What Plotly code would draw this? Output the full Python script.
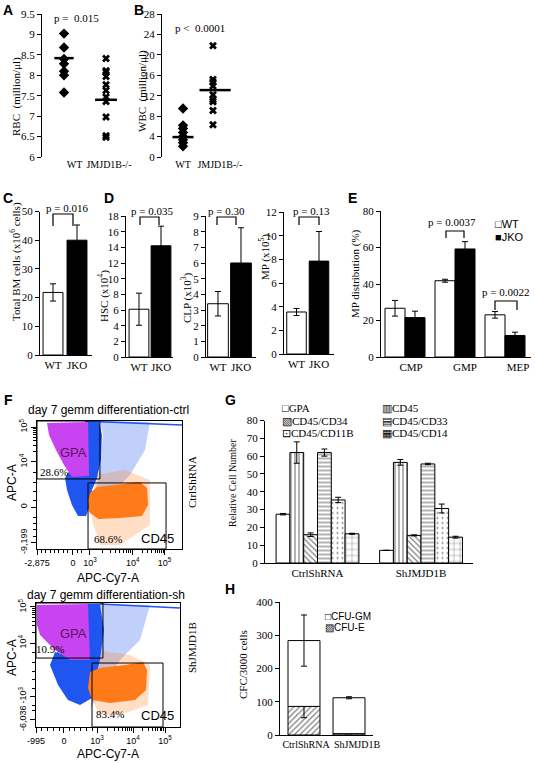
import numpy as np
import plotly.graph_objects as go

W, H = 535, 763
SERIF = "Liberation Serif, Times New Roman, serif"
SANS = "Liberation Sans, Arial, sans-serif"

# ---------------- DATA ----------------
# A: RBC (million/ul)
ab_groups = ["WT", "JMJD1B-/-"]
rbc_wt = [9.02, 8.68, 8.40, 8.28, 8.10, 8.00, 7.58]
rbc_ko = [8.41, 8.11, 8.08, 7.97, 7.77, 7.63, 7.47, 7.36, 6.98, 6.52, 6.48]
rbc_mean = [8.42, 7.40]
# B: WBC (million/ul)
wbc_wt = [9.5, 6.2, 5.6, 4.8, 4.0, 3.4, 2.8, 2.1]
wbc_ko = [21.8, 15.2, 14.7, 13.9, 12.2, 11.2, 10.8, 9.1, 6.3]
wbc_mean = [3.9, 13.1]

# C / D
cd_groups = ["WT", "JKO"]
bm_mean, bm_err = [21.8, 40.0], [3.0, 5.3]
hsc_mean, hsc_err = [6.1, 14.2], [2.05, 2.5]
clp_mean, clp_err = [3.4, 6.0], [0.78, 2.25]
mp_mean, mp_err = [3.55, 7.85], [0.3, 2.5]

# E
e_cats = ["CMP", "GMP", "MEP"]
e_wt, e_wt_err = [26.7, 41.8, 23.1], [4.3, 0.8, 1.8]
e_ko, e_ko_err = [21.6, 59.2, 11.8], [3.5, 4.0, 1.8]

# G
g_groups = ["CtrlShRNA", "ShJMJD1B"]
g_series = ["GPA", "CD45", "CD45/CD34", "CD45/CD33", "CD45/CD11B", "CD45/CD14"]
g_gpa, g_gpa_err = [27.4, 7.1], [0.4, 0.0]
g_cd45, g_cd45_err = [62.0, 56.5], [6.0, 1.6]
g_cd34, g_cd34_err = [15.9, 15.5], [1.0, 0.3]
g_cd33, g_cd33_err = [62.0, 55.6], [2.0, 0.4]
g_cd11b, g_cd11b_err = [35.4, 30.6], [1.5, 2.5]
g_cd14, g_cd14_err = [16.4, 14.5], [0.3, 0.5]

# H
h_groups = ["CtrlShRNA", "ShJMJD1B"]
cfu_e, cfu_e_err = [86, 4], [34, 0]
cfu_gm, cfu_gm_err = [198, 108], [77, 3]

# F: flow cytometry (display units 0-100), outlines of dot clouds
ctrl_magenta_x = [6.9, 35.2, 35.9, 24.1, 18.6, 13.1, 8.3]
ctrl_magenta_y = [98.4, 99.2, 57.0, 56.3, 65.6, 77.3, 89.1]
ctrl_blue_x = [33.1, 42.8, 44.8, 44.1, 41.4, 37.9, 36.6, 33.8, 28.3, 24.1, 20.7, 19.3, 22.8, 33.1]
ctrl_blue_y = [100, 100, 89.1, 69.5, 55.5, 46.1, 34.4, 25.8, 25.8, 34.4, 46.1, 55.5, 61.7, 61.7]
ctrl_blue_sparse_x = [43.4, 77.9, 74.5, 64.1, 53.8, 43.4, 36.6, 43.4, 45.5]
ctrl_blue_sparse_y = [100, 99.2, 77.3, 57.8, 46.1, 30.5, 26.6, 61.7, 89.1]
ctrl_orange_x = [36.6, 41.4, 53.8, 71.0, 75.9, 76.6, 72.4, 57.2, 42.1, 35.9, 35.2]
ctrl_orange_y = [43.8, 48.4, 50.0, 52.3, 47.7, 34.4, 25.8, 24.2, 23.4, 28.9, 38.3]
ctrl_orange_sparse_x = [40.0, 60.7, 77.9, 77.9, 57.2, 43.4, 37.9]
ctrl_orange_sparse_y = [57.8, 61.7, 53.9, 18.8, 3.1, 3.1, 22.7]
ctrl_sat_x, ctrl_sat_y = [43.4, 100], [99.5, 96.9]
ctrl_gpa_gate = [0, 43.4, 54.7, 100]
ctrl_cd45_gate = [35.2, 89.0, 0, 51.6]

sh_magenta_x = [0.7, 36.1, 37.5, 23.6, 13.2, 2.8, 0.7]
sh_magenta_y = [98.4, 99.2, 54.0, 54.0, 62.1, 74.2, 82.3]
sh_blue_x = [34.7, 44.4, 47.2, 44.4, 41.0, 38.9, 30.6, 22.2, 15.3, 9.7, 13.2, 34.7]
sh_blue_y = [99.2, 99.2, 78.2, 54.0, 37.9, 23.4, 17.7, 21.8, 33.9, 50.0, 60.5, 54.0]
sh_blue_sparse_x = [44.4, 79.2, 72.2, 58.3, 44.4, 37.5, 44.4]
sh_blue_sparse_y = [99.2, 98.4, 70.2, 54.0, 29.8, 13.7, 62.1]
sh_orange_x = [37.5, 44.4, 61.8, 74.3, 77.1, 76.4, 68.8, 51.4, 38.9, 36.1]
sh_orange_y = [44.4, 47.6, 50.0, 52.4, 46.0, 29.8, 21.8, 19.4, 21.8, 31.5]
sh_orange_sparse_x = [40.3, 65.3, 79.2, 77.8, 58.3, 44.4, 38.9]
sh_orange_sparse_y = [62.1, 58.1, 50.0, 17.7, 9.7, 9.7, 21.8]
sh_sat_x, sh_sat_y = [44.4, 100], [99.2, 96.0]
sh_gpa_gate = [0, 46.5, 55.6, 100]
sh_cd45_gate = [38.9, 88.2, 0, 51.6]

ctrl_xtick_pos = [0, 24.8, 36.5, 66, 88]
ctrl_xtick_txt = ["-2,875", "0", "10<sup>3</sup>", "10<sup>4</sup>", "10<sup>5</sup>"]
ctrl_ytick_pos = [5.0, 32.8, 68, 95.3]
ctrl_ytick_txt = ["-9,199", "0", "10<sup>4</sup>", "10<sup>5</sup>"]
sh_xtick_pos = [0, 19.4, 42.4, 67.4, 89.6]
sh_xtick_txt = ["-995", "0", "10<sup>3</sup>", "10<sup>4</sup>", "10<sup>5</sup>"]
sh_ytick_pos = [6.0, 24.5, 67.7, 96.8]
sh_ytick_txt = ["-6,036", "-10<sup>3</sup>", "10<sup>4</sup>", "10<sup>5</sup>"]

# ---------------- HELPERS ----------------
def dom_x(l, r):
    return [l / W, r / W]

def dom_y(t, b):
    return [1 - b / H, 1 - t / H]

def P(x, y):
    return x / W, 1 - y / H

layout = dict(width=W, height=H, margin=dict(l=0, r=0, t=0, b=0, autoexpand=False),
              paper_bgcolor="white", plot_bgcolor="white", showlegend=False,
              barmode="group", bargap=0.2, bargroupgap=0)

def yax(n, dom, rng, dtick=None, **kw):
    d = dict(domain=dom, range=rng, anchor="x" if n == 1 else f"x{n}",
             showgrid=False, zeroline=False, showline=True, linecolor="black", linewidth=1,
             ticks="outside", ticklen=4, tickcolor="black", tickwidth=1, automargin=False,
             tickfont=dict(family=SERIF, size=11, color="black"))
    if dtick is not None:
        d["dtick"] = dtick
        d["tick0"] = 0
    d.update(kw)
    layout["yaxis" if n == 1 else f"yaxis{n}"] = d

def xax(n, dom, rng, tickvals, ticktext, size=11, **kw):
    d = dict(domain=dom, range=rng, anchor="y" if n == 1 else f"y{n}",
             showgrid=False, zeroline=False, showline=True, linecolor="black", linewidth=1,
             ticks="", tickmode="array", tickvals=tickvals, ticktext=ticktext, tickangle=0,
             automargin=False, tickfont=dict(family=SERIF, size=size, color="black"))
    d.update(kw)
    layout["xaxis" if n == 1 else f"xaxis{n}"] = d

def ax_ref(n):
    return ("x", "y") if n == 1 else (f"x{n}", f"y{n}")

fig = go.Figure()
EB = dict(type="data", color="black", thickness=1, width=3)

# ---------------- A ----------------
xax(1, dom_x(42, 130), [0.476, 2.571], [1.25, 2.07], ab_groups, size=10, showline=False)
yax(1, dom_y(14, 157), [6, 9.5], 0.5)
xr, yr = ax_ref(1)
fig.add_trace(go.Scatter(x=[1] * len(rbc_wt), y=rbc_wt, mode="markers",
                         marker=dict(symbol="diamond", size=8, color="black"), xaxis=xr, yaxis=yr))
fig.add_trace(go.Scatter(x=[2] * len(rbc_ko), y=rbc_ko, mode="markers",
                         marker=dict(symbol="x", size=7, color="black"), xaxis=xr, yaxis=yr))
for i, (m, hw) in enumerate(zip(rbc_mean, [0.23, 0.26])):
    fig.add_trace(go.Scatter(x=[i + 1 - hw, i + 1 + hw], y=[m, m], mode="lines",
                             line=dict(color="black", width=2.5), xaxis=xr, yaxis=yr))

# ---------------- B ----------------
xax(2, dom_x(162, 245), [0.3, 3.067], [1.0, 2.23], ab_groups, size=10, showline=False)
yax(2, dom_y(14, 157), [0, 28], 4)
xr, yr = ax_ref(2)
fig.add_trace(go.Scatter(x=[1] * len(wbc_wt), y=wbc_wt, mode="markers",
                         marker=dict(symbol="diamond", size=8, color="black"), xaxis=xr, yaxis=yr))
fig.add_trace(go.Scatter(x=[2] * len(wbc_ko), y=wbc_ko, mode="markers",
                         marker=dict(symbol="x", size=7, color="black"), xaxis=xr, yaxis=yr))
for i, (m, hw, c) in enumerate(zip(wbc_mean, [0.35, 0.52], [1.0, 2.07])):
    fig.add_trace(go.Scatter(x=[c - hw, c + hw], y=[m, m], mode="lines",
                             line=dict(color="black", width=2.5), xaxis=xr, yaxis=yr))

# ---------------- C, D ----------------
def two_bar(n, xdom, xrng, ydom, yrng, dtick, means, errs, bw):
    xax(n, xdom, xrng, [0, 1], cd_groups)
    yax(n, ydom, yrng, dtick)
    xr, yr = ax_ref(n)
    fig.add_trace(go.Bar(x=[0, 1], y=means, width=bw, offset=-bw / 2,
                         marker=dict(color=["white", "black"], line=dict(color="black", width=1)),
                         error_y=dict(array=errs, **EB), xaxis=xr, yaxis=yr))

two_bar(3, dom_x(40, 92), [-0.542, 1.625], dom_y(211.5, 355), [0, 50], 10, bm_mean, bm_err, 0.83)
two_bar(4, dom_x(126, 173), [-0.59, 1.545], dom_y(216, 357), [0, 18], 2, hsc_mean, hsc_err, 0.9)
two_bar(5, dom_x(206, 256), [-0.52, 1.652], dom_y(216, 357), [0, 9], 1, clp_mean, clp_err, 0.9)
two_bar(6, dom_x(284, 334), [-0.556, 1.667], dom_y(212, 354), [0, 12], 2, mp_mean, mp_err, 0.87)

# ---------------- E ----------------
xax(7, dom_x(381, 531), [-0.48, 2.52], [0.12, 1.2, 2.26], e_cats)
yax(7, dom_y(211, 357), [0, 80], 20)
xr, yr = ax_ref(7)
fig.add_trace(go.Bar(x=[0, 1, 2], y=e_wt, name="WT",
                     marker=dict(color="white", line=dict(color="black", width=1)),
                     error_y=dict(array=e_wt_err, **EB), xaxis=xr, yaxis=yr))
fig.add_trace(go.Bar(x=[0, 1, 2], y=e_ko, name="JKO",
                     marker=dict(color="black", line=dict(color="black", width=1)),
                     error_y=dict(array=e_ko_err, **EB), xaxis=xr, yaxis=yr))

# ---------------- F (flow) ----------------
MAG, BLUE, ORANGE = "#C844F0", "#1F55F0", "#FF7A18"
minor_x_ctrl = list(36.5 + 29.5 * np.log10(np.arange(2, 10))) + list(66 + 22 * np.log10(np.arange(2, 10))) \
    + [3, 6, 9, 12, 15, 18, 21, 28, 31]
minor_y_ctrl = list(68 + 27.3 * np.log10(np.arange(2, 10))) + [10, 15, 20, 25, 38, 45, 52, 60]
minor_x_sh = list(42.4 + 25 * np.log10(np.arange(2, 10))) + list(67.4 + 22.2 * np.log10(np.arange(2, 10))) \
    + [4, 8, 12, 16, 23, 27, 31, 35, 39]
minor_y_sh = list(67.7 + 29.1 * np.log10(np.arange(2, 10))) + [13, 17, 31, 38, 45, 52, 60]

def flow_axes(n, xdom, ydom, xt, xtt, yt, ytt, mx, my):
    fnt = dict(family=SANS, size=9, color="black")
    layout[f"xaxis{n}"] = dict(domain=xdom, range=[0, 100], anchor=f"y{n}", showgrid=False, zeroline=False,
                               showline=True, mirror=True, linecolor="black", linewidth=1,
                               ticks="outside", ticklen=5, tickcolor="black", tickmode="array",
                               tickvals=xt, ticktext=xtt, tickfont=fnt, tickangle=0, automargin=False,
                               minor=dict(tickmode="array", tickvals=mx, ticks="outside", ticklen=3,
                                          tickcolor="black"))
    layout[f"yaxis{n}"] = dict(domain=ydom, range=[0, 100], anchor=f"x{n}", showgrid=False, zeroline=False,
                               showline=True, mirror=True, linecolor="black", linewidth=1,
                               ticks="outside", ticklen=5, tickcolor="black", tickmode="array",
                               tickvals=yt, ticktext=ytt, tickangle=-90, tickfont=fnt, automargin=False,
                               minor=dict(tickmode="array", tickvals=my, ticks="outside", ticklen=3,
                                          tickcolor="black"))

def poly(xs, ys, color, n):
    fig.add_trace(go.Scatter(x=xs, y=ys, fill="toself", fillcolor=color, mode="lines",
                             line=dict(width=0, color=color), hoverinfo="skip",
                             xaxis=f"x{n}", yaxis=f"y{n}"))

flow_axes(8, dom_x(37, 182), dom_y(421, 549), ctrl_xtick_pos, ctrl_xtick_txt, ctrl_ytick_pos, ctrl_ytick_txt,
          minor_x_ctrl, minor_y_ctrl)
flow_axes(9, dom_x(36, 180), dom_y(603, 727), sh_xtick_pos, sh_xtick_txt, sh_ytick_pos, sh_ytick_txt,
          minor_x_sh, minor_y_sh)

for n, d in [(8, dict(bs=(ctrl_blue_sparse_x, ctrl_blue_sparse_y), os=(ctrl_orange_sparse_x, ctrl_orange_sparse_y),
                      b=(ctrl_blue_x, ctrl_blue_y), m=(ctrl_magenta_x, ctrl_magenta_y),
                      o=(ctrl_orange_x, ctrl_orange_y), s=(ctrl_sat_x, ctrl_sat_y),
                      g1=ctrl_gpa_gate, g2=ctrl_cd45_gate)),
             (9, dict(bs=(sh_blue_sparse_x, sh_blue_sparse_y), os=(sh_orange_sparse_x, sh_orange_sparse_y),
                      b=(sh_blue_x, sh_blue_y), m=(sh_magenta_x, sh_magenta_y),
                      o=(sh_orange_x, sh_orange_y), s=(sh_sat_x, sh_sat_y),
                      g1=sh_gpa_gate, g2=sh_cd45_gate))]:
    poly(*d["bs"], "rgba(31,85,240,0.28)", n)
    poly(*d["os"], "rgba(255,122,24,0.25)", n)
    poly(*d["b"], BLUE, n)
    poly(*d["m"], MAG, n)
    poly(*d["o"], ORANGE, n)
    fig.add_trace(go.Scatter(x=d["s"][0], y=d["s"][1], mode="lines", line=dict(color=BLUE, width=1.5),
                             xaxis=f"x{n}", yaxis=f"y{n}"))
    for g in (d["g1"], d["g2"]):
        fig.add_shape(type="rect", xref=f"x{n}", yref=f"y{n}", x0=g[0], x1=g[1], y0=g[2], y1=g[3],
                      line=dict(color="black", width=1), fillcolor="rgba(0,0,0,0)")

# ---------------- G ----------------
xax(10, dom_x(265, 473), [-0.507, 1.502], [0, 1], g_groups)
yax(10, dom_y(420.5, 563), [0, 80], 10)
xr, yr = ax_ref(10)
g_vals = [(g_gpa, g_gpa_err, ""), (g_cd45, g_cd45_err, "|"), (g_cd34, g_cd34_err, "\\"),
          (g_cd33, g_cd33_err, "-"), (g_cd11b, g_cd11b_err, "."), (g_cd14, g_cd14_err, "+")]
for name, (vals, errs, shp) in zip(g_series, g_vals):
    pat = dict(shape=shp, fgcolor="black", bgcolor="white", size=4, solidity=0.3) if shp else None
    if shp == ".":
        pat.update(size=5, solidity=0.12)
    if shp == "+":
        pat.update(size=6, solidity=0.15)
    mk = dict(color="white", line=dict(color="black", width=1))
    if pat:
        mk["pattern"] = pat
    fig.add_trace(go.Bar(x=[0, 1], y=vals, name=name, marker=mk,
                         error_y=dict(array=errs, **EB), xaxis=xr, yaxis=yr))

# ---------------- H ----------------
xax(11, dom_x(280, 373), [-0.533, 1.533], [0.045, 1.178], h_groups, size=10)
yax(11, dom_y(602, 735), [0, 400], 100)
xr, yr = ax_ref(11)
fig.add_trace(go.Bar(x=[0, 1], y=cfu_e, name="CFU-E", width=0.71, offset=-0.355,
                     marker=dict(color="white", line=dict(color="black", width=1),
                                 pattern=dict(shape="/", fgcolor="black", bgcolor="white", size=4, solidity=0.3)),
                     error_y=dict(array=cfu_e_err, **EB), xaxis=xr, yaxis=yr))
fig.add_trace(go.Bar(x=[0, 1], y=cfu_gm, base=cfu_e, name="CFU-GM", width=0.71, offset=-0.355,
                     marker=dict(color="white", line=dict(color="black", width=1)),
                     error_y=dict(array=cfu_gm_err, **EB), xaxis=xr, yaxis=yr))

# ---------------- ANNOTATIONS ----------------
anns = []

def ann(text, x, y, size=11, family=SERIF, angle=0, color="black", xanchor="center", bold=False):
    px, py = P(x, y)
    if bold:
        text = f"<b>{text}</b>"
    anns.append(dict(text=text, x=px, y=py, xref="paper", yref="paper", showarrow=False,
                     font=dict(family=family, size=size, color=color), textangle=angle,
                     xanchor=xanchor, yanchor="middle"))

for t, x, y in [("A", 8, 10), ("B", 139, 10), ("C", 8, 198), ("D", 109, 198), ("E", 352, 198),
                ("F", 8, 400), ("G", 230, 400), ("H", 230, 589)]:
    ann(t, x, y, size=14, family=SANS, bold=True)

ann("RBC  (million/μl)", 17, 97, angle=-90)
ann("WBC  (million/μl)", 143, 91, angle=-90)
ann("Total BM cells (x10<sup>6</sup> cells)", 15, 262, angle=-90)
ann("HSC (x10<sup>4</sup>)", 104, 296, angle=-90)
ann("CLP (x10<sup>3</sup>)", 186, 298, angle=-90)
ann("MP (x10<sup>5</sup>)", 264, 257, angle=-90)
ann("MP distribution (%)", 355, 274, angle=-90)
ann("Relative Cell Number", 232, 483, angle=-90, size=10)
ann("CFC/3000 cells", 243, 665, angle=-90)

ann("p =  0.015", 76, 18)
ann("p <  0.0001", 200, 28)
ann("p = 0.016", 67, 208)
ann("p = 0.035", 152, 211)
ann("p = 0.30", 226, 211)
ann("p = 0.13", 311, 211)
ann("p = 0.0037", 452, 222)
ann("p = 0.0022", 505, 292)

# E legend
ann("□WT", 493, 224, family=SANS, size=11, xanchor="left")
ann("■JKO", 493, 237, family=SANS, size=11, xanchor="left")
# G legend
ann("□GPA", 280, 408, size=11, xanchor="left")
ann("▧CD45/CD34", 280, 421, size=11, xanchor="left")
ann("⊡CD45/CD11B", 280, 433, size=11, xanchor="left")
ann("▥CD45", 380, 408, size=11, xanchor="left")
ann("▤CD45/CD33", 380, 421, size=11, xanchor="left")
ann("▦CD45/CD14", 380, 433, size=11, xanchor="left")
# H legend
ann("□CFU-GM", 323, 616, family=SANS, size=10, xanchor="left")
ann("▨CFU-E", 323, 627, family=SANS, size=10, xanchor="left")

# F texts
ann("day 7 gemm differentiation-ctrl", 108, 410, family=SANS, size=12)
ann("day 7 gemm differentiation-sh", 106, 595, family=SANS, size=12)
ann("APC-A", 12, 482, family=SANS, size=12, angle=-90)
ann("APC-A", 12, 657, family=SANS, size=12, angle=-90)
ann("APC-Cy7-A", 108, 578, family=SANS, size=12)
ann("APC-Cy7-A", 108, 754, family=SANS, size=12)
ann("CtrlShRNA", 192, 482, angle=-90)
ann("ShJMJD1B", 192, 647, angle=-90)
ann("GPA", 73, 452, family=SANS, size=13, color="#5a1060")
ann("28.6%", 54, 472, size=11)
ann("68.6%", 108, 539, size=11)
ann("CD45", 157, 538, family=SANS, size=13)
ann("GPA", 73, 633, family=SANS, size=13, color="#5a1060")
ann("10.9%", 50, 649, size=11)
ann("83.4%", 110, 714, size=11)
ann("CD45", 157, 715, family=SANS, size=13)

layout["annotations"] = anns

# brackets (pixel positions of the significance brackets)
shapes = []
for x0, x1, yt, yb in [(53, 73, 214, 226), (140, 159, 217, 225), (217, 236, 217, 225),
                       (299, 319, 217, 225), (446, 464, 231, 238), (495, 517, 301, 310)]:
    a0, b0 = P(x0, yb)
    a1, b1 = P(x1, yt)
    shapes.append(dict(type="path", xref="paper", yref="paper",
                       path=f"M {a0},{b0} L {a0},{b1} L {a1},{b1} L {a1},{b0}",
                       line=dict(color="black", width=1.2)))
fig.update_layout(**layout)
for s in shapes:
    fig.add_shape(**s)

fig.write_html("out.html", config={"displayModeBar": False},
               post_script="document.body.style.margin='0px';document.body.style.overflow='hidden';")
